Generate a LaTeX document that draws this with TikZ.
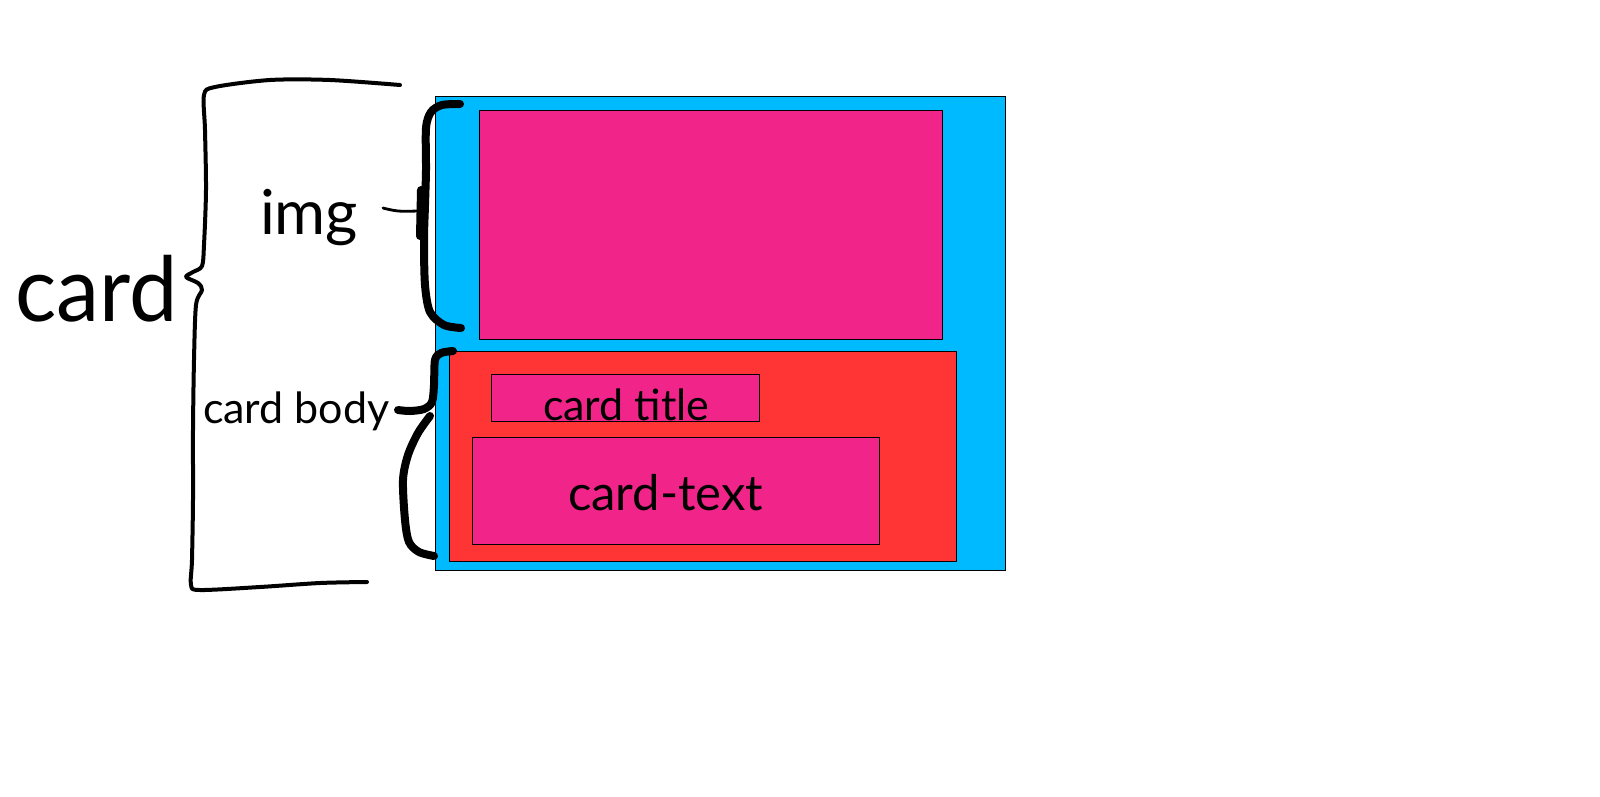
\documentclass[tikz,border=0pt]{standalone}
\usepackage{fontspec}
\setmainfont{Lato}
\definecolor{cardblue}{RGB}{0,186,255}
\definecolor{imgpink}{RGB}{241,36,138}
\definecolor{bodyred}{RGB}{255,53,53}
\begin{document}
\begin{tikzpicture}[x=1pt,y=-1pt,
  box/.style={draw=black,line width=0.8pt,inner sep=0pt,outer sep=0pt,anchor=north west},
  lbl/.style={inner sep=0pt,outer sep=0pt,anchor=base west},
  pen/.style={line cap=round,line join=round,draw=black},
  thinpen/.style={pen,line width=4pt},
  thickpen/.style={pen,line width=8pt}]
\useasboundingbox[fill=white] (0,0) rectangle (1600,796);
% boxes
\node[box,fill=cardblue,minimum width=570,minimum height=474] (card) at (435,96) {};
\node[box,fill=imgpink,minimum width=463,minimum height=229] (img) at (479,110) {};
\node[box,fill=bodyred,minimum width=507,minimum height=210] (body) at (449,351) {};
\node[box,fill=imgpink,minimum width=268,minimum height=47] (title) at (491,374) {};
\node[box,fill=imgpink,minimum width=407,minimum height=107] (text) at (472,437) {};
% texts
\node[lbl,font=\fontsize{90}{90}\selectfont,xscale=0.96] (cardlbl) at (15,321) {card};
\node[lbl,font=\fontsize{62}{62}\selectfont] (imglbl) at (260,234) {img};
\node[lbl,font=\fontsize{43}{43}\selectfont] (bodylbl) at (203,423) {card body};
\node[lbl,font=\fontsize{43}{43}\selectfont] (titlelbl) at (543,420) {card title};
\node[lbl,font=\fontsize{49}{49}\selectfont] (textlbl) at (568,510) {card-text};
% big brace
\draw[thinpen] plot[smooth,tension=0.5] coordinates {(400,85) (330,80) (270,80) (215,87) (204,95) (205,130) (206,190) (204,245) (202,266) (193,272) (186,277) (198,283) (202,290) (196,305) (194,360) (193,430) (193,500) (192,560) (191,585) (200,590) (260,587) (320,583) (367,582)};
% img brace
\draw[pen,line width=2.8pt] plot[smooth,tension=0.6] coordinates {(383,208) (398,211) (418,211)};
\draw[thickpen] plot[smooth,tension=0.5] coordinates {(460,104) (442,105) (431,112) (426,128) (426,170) (425,205) (424,240) (425,285) (430,312) (444,325) (461,328)};
\draw[thickpen] (421,190) -- (420,236);
% body brace
\draw[thickpen] plot[smooth,tension=0.5] coordinates {(453,351) (441,353) (435,360) (434,385) (432,402) (424,409) (410,411) (398,410)};
\draw[thickpen] plot[smooth,tension=0.5] coordinates {(430,416) (418,433) (408,455) (403,480) (405,520) (409,542) (419,552) (434,556)};
\end{tikzpicture}
\end{document}
